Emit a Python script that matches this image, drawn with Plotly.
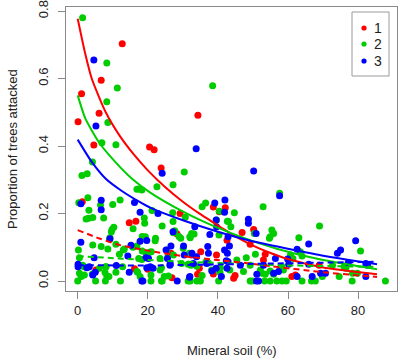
import plotly.graph_objects as go

# ---------------- data ----------------
groups = ["1", "2", "3"]
colors = {"1": "#FF0000", "2": "#00CD00", "3": "#0000FF"}

red_x = [12.7, 6.7, 1.1, 6.1, 34.3, 0.1, 4.6, 20.5, 21.8, 23.8, 1.3, 29.2, 38.7, 40.4, 14.7, 16.6,
         28.3, 5.2, 16.2, 20.0, 26.6, 32.5, 39.6, 34.2, 26.9, 42.1, 50.2, 46.9, 42.6, 49.2, 53.5,
         53.0, 61.1, 62.1, 44.9, 44.5, 68.9, 35.1, 38.7, 34.7]
red_y = [0.703, 0.595, 0.555, 0.497, 0.491, 0.472, 0.403, 0.397, 0.389, 0.335, 0.235, 0.200, 0.219,
         0.205, 0.173, 0.177, 0.140, 0.033, 0.036, 0.035, 0.082, 0.077, 0.077, 0.020, 0.010, 0.217,
         0.153, 0.144, 0.121, 0.109, 0.079, 0.062, 0.013, 0.018, 0.016, 0.008, 0.047, 0.087, 0.021,
         0.038]

green_x = [1.4, 8.3, 11.3, 38.5, 8.3, 8.6, 6.9, 10.9, 4.2, 1.2, 2.7, 30.4, 17.5, 16.9, 18.3, 27.2,
           22.6, 0.3, 2.9, 12.1, 10.0, 3.2, 2.4, 3.1, 4.3, 7.4, 21.2, 19.0, 27.1, 30.7, 36.5, 35.5,
           42.7, 19.1, 9.8, 9.6, 10.3, 15.8, 24.1, 27.7, 27.3, 28.9, 33.2, 32.1, 22.1, 18.4, 19.3,
           9.2, 15.8, 57.6, 52.9, 69.0, 80.7, 63.1, 44.7, 43.0, 43.7, 50.4, 55.4, 55.9, 54.9, 54.7,
           39.6, 40.3, 29.4, 32.0, 32.5, 27.2, 22.2, 40.4, 6.5,
           0.2, 4.3, 6.7, 8.6, 10.9, 11.9, 13.3, 18.4, 19.5, 0.5, 1.4, 6.2, 8.1, 12.8, 17.1, 0.5,
           1.0, 1.9, 8.9, 10.9, 7.8, 16.9, 9.1, 30.1, 21.0, 25.8, 29.6, 31.5, 32.3, 37.2, 23.9,
           35.5, 38.2, 40.6, 43.4, 50.7, 63.5, 64.0, 48.1, 60.7, 61.4, 58.3, 58.7, 52.1, 52.6,
           53.5, 54.9, 55.9, 47.3, 45.4, 49.2, 72.7, 76.0, 76.5, 74.6, 78.4, 79.8, 69.8,
           17.4, 18.3, 23.5, 20.5, 25.4, 27.3, 31.9, 34.0, 36.6, 40.7, 1.8, 4.2, 8.0, 8.3, 16.9,
           17.8, 20.9, 23.5, 24.7, 25.9, 13.0,
           0.0, 5.1, 7.9, 12.2, 20.9, 24.1, 32.1, 34.0, 35.0, 40.2, 49.2, 49.8, 53.3, 54.9, 56.8,
           58.3, 59.5, 64.0, 66.7, 67.8, 78.3, 87.8, 31.5, 23.9]
green_y = [0.780, 0.646, 0.572, 0.579, 0.531, 0.470, 0.410, 0.404, 0.353, 0.313, 0.318, 0.323,
           0.273, 0.272, 0.270, 0.285, 0.279, 0.232, 0.247, 0.240, 0.227, 0.210, 0.184, 0.186,
           0.188, 0.187, 0.209, 0.187, 0.202, 0.189, 0.231, 0.220, 0.177, 0.171, 0.153, 0.146,
           0.159, 0.155, 0.163, 0.149, 0.143, 0.132, 0.139, 0.128, 0.119, 0.132, 0.131, 0.128,
           0.100, 0.260, 0.220, 0.163, 0.089, 0.128, 0.202, 0.176, 0.161, 0.141, 0.151, 0.141,
           0.131, 0.127, 0.181, 0.136, 0.127, 0.131, 0.141, 0.176, 0.127, 0.207, 0.225,
           0.092, 0.107, 0.102, 0.095, 0.109, 0.079, 0.095, 0.089, 0.082, 0.069, 0.047, 0.038,
           0.042, 0.042, 0.026, 0.023, 0.013, 0.018, 0.013, 0.026, 0.025, 0.104, 0.124, 0.097,
           0.087, 0.074, 0.052, 0.050, 0.047, 0.055, 0.039, 0.016, 0.033, 0.026, 0.033, 0.079,
           0.087, 0.074, 0.069, 0.077, 0.067, 0.042, 0.033, 0.033, 0.023, 0.020, 0.030, 0.020,
           0.028, 0.062, 0.047, 0.047, 0.042, 0.038, 0.013, 0.023, 0.023, 0.013,
           0.067, 0.064, 0.067, 0.085, 0.092, 0.077, 0.082, 0.044, 0.057, 0.039, 0.042, 0.021,
           0.042, 0.015, 0.028, 0.013, 0.018, 0.033, 0.013, 0.015, 0.092,
           0.0, 0.0, 0.0, 0.0, 0.0, 0.0, 0.0, 0.0, 0.0, 0.0, 0.0, 0.0, 0.0, 0.0, 0.0,
           0.0, 0.0, 0.0, 0.0, 0.0, 0.0, 0.0, 0.0, 0.0]

blue_x = [4.6, 5.2, 33.8, 24.1, 0.9, 6.7, 6.7, 16.2, 17.8, 22.9, 39.1, 42.0, 41.9, 39.5, 9.2, 17.8,
          0.9, 15.2, 50.2, 57.6, 48.7, 48.7, 50.9, 43.3, 42.7, 27.2, 37.7, 39.6, 42.9, 33.4, 26.6,
          33.9, 26.3, 42.9, 21.5, 41.0, 32.0, 79.3, 75.0, 74.1, 77.2, 82.2, 82.7, 69.3, 70.7, 82.2,
          66.9, 62.6, 65.9, 59.9, 65.9, 57.3, 62.6, 53.0, 51.1, 46.4, 14.3, 19.5, 0.1, 0.1, 3.3,
          5.0, 11.0, 14.7, 19.7, 4.3, 18.6, 18.3, 28.4, 51.0, 51.6, 56.4, 60.2, 55.9, 4.7, 20.2,
          20.7, 25.6, 26.4, 25.2, 30.2, 30.4, 32.6, 33.0, 31.9, 36.8, 38.3, 39.5, 42.6, 42.4,
          41.9, 37.1, 37.3, 19.7, 2.6]
blue_y = [0.655, 0.459, 0.392, 0.319, 0.229, 0.239, 0.211, 0.233, 0.204, 0.200, 0.231, 0.240,
          0.204, 0.181, 0.125, 0.118, 0.115, 0.106, 0.326, 0.253, 0.183, 0.171, 0.141, 0.104,
          0.082, 0.146, 0.138, 0.161, 0.131, 0.161, 0.104, 0.072, 0.047, 0.057, 0.038, 0.013,
          0.013, 0.119, 0.092, 0.082, 0.054, 0.052, 0.047, 0.023, 0.023, 0.013, 0.013, 0.094,
          0.110, 0.065, 0.050, 0.028, 0.013, 0.047, 0.020, 0.047, 0.074, 0.069, 0.042, 0.050,
          0.042, 0.026, 0.046, 0.026, 0.039, 0.018, 0.0, 0.0, 0.0, 0.0, 0.0, 0.067, 0.050,
          0.023, 0.069, 0.067, 0.042, 0.067, 0.052, 0.092, 0.104, 0.077, 0.082, 0.052, 0.011,
          0.052, 0.030, 0.038, 0.038, 0.060, 0.092, 0.102, 0.082, 0.120, 0.039]

# fitted curves, values
red_fit_x = [0, 2, 4, 8, 12, 16, 20, 25, 30, 35, 40.7, 45, 50, 55, 60, 70, 85.4]
red_fit_y = [0.777, 0.68, 0.60, 0.50, 0.43, 0.375, 0.328, 0.278, 0.235, 0.198, 0.160, 0.132,
             0.105, 0.083, 0.065, 0.040, 0.020]
green_fit_x = [0, 2.2, 6, 10.7, 15.5, 20.7, 30.2, 39.7, 49.2, 57, 70, 85.4]
green_fit_y = [0.55, 0.481, 0.412, 0.353, 0.303, 0.262, 0.205, 0.159, 0.121, 0.095, 0.062, 0.035]
blue_fit_x = [0, 4, 8, 12.7, 17.4, 21, 30, 40, 49, 57, 70, 85.4]
blue_fit_y = [0.419, 0.353, 0.303, 0.266, 0.236, 0.216, 0.18, 0.146, 0.12, 0.102, 0.075, 0.050]

red_dash_x = [0, 6.2, 11.9, 20, 30, 40, 49, 55, 70, 85.4]
red_dash_y = [0.151, 0.126, 0.107, 0.090, 0.074, 0.062, 0.052, 0.044, 0.026, 0.012]
green_dash_x = [0, 20, 57, 85.4]
green_dash_y = [0.074, 0.062, 0.047, 0.042]
blue_dash_x = [0, 20, 57, 85.4]
blue_dash_y = [0.047, 0.046, 0.052, 0.057]

x_ticks = [0, 20, 40, 60, 80]
y_ticks = [0.0, 0.2, 0.4, 0.6, 0.8]
y_tick_labels = ["0.0", "0.2", "0.4", "0.6", "0.8"]

# ---------------- figure ----------------
FONT = "Liberation Sans, Arial, sans-serif"
TXT = "#222222"
fig = go.Figure()

pts = {"1": (red_x, red_y), "2": (green_x, green_y), "3": (blue_x, blue_y)}
for g in groups:
    xs, ys = pts[g]
    fig.add_trace(go.Scatter(x=xs, y=ys, mode="markers", name=g, showlegend=False,
                             marker=dict(color=colors[g], size=7, line=dict(width=0))))

fits = {"1": (red_fit_x, red_fit_y, red_dash_x, red_dash_y),
        "2": (green_fit_x, green_fit_y, green_dash_x, green_dash_y),
        "3": (blue_fit_x, blue_fit_y, blue_dash_x, blue_dash_y)}
for g in groups:
    fx, fy, dx, dy = fits[g]
    fig.add_trace(go.Scatter(x=fx, y=fy, mode="lines", showlegend=False, hoverinfo="skip",
                             line=dict(color=colors[g], width=2, shape="spline", smoothing=0.6)))
    fig.add_trace(go.Scatter(x=dx, y=dy, mode="lines", showlegend=False, hoverinfo="skip",
                             line=dict(color=colors[g], width=2, dash="6px,4px",
                                       shape="spline", smoothing=0.6)))

axis_common = dict(showline=True, linecolor="#8a8a8a", linewidth=1, mirror=True,
                   ticks="outside", ticklen=7, tickcolor="#8a8a8a", tickwidth=1,
                   showgrid=False, zeroline=False, automargin=False,
                   tickfont=dict(family=FONT, size=13, color=TXT))

# legend box (drawn in paper coordinates, top-right of the plot)
W, H = 331.0, 284.0          # plot area size in px
def px_x(p):  # px from plot-left -> paper
    return p / W
def px_y(p):  # px from plot-top -> paper
    return 1 - p / H

shapes = [dict(type="rect", xref="paper", yref="paper",
               x0=px_x(286), x1=px_x(323), y0=px_y(69), y1=px_y(5),
               line=dict(color="#9a9a9a", width=1), fillcolor="white", layer="above")]
annotations = [
    dict(text="Mineral soil (%)", xref="paper", yref="paper", x=0.5, y=px_y(343),
         showarrow=False, xanchor="center", yanchor="middle",
         font=dict(family=FONT, size=13, color=TXT)),
    dict(text="Proportion of trees attacked", xref="paper", yref="paper", x=px_x(-54), y=0.5,
         showarrow=False, textangle=-90, xanchor="center", yanchor="middle",
         font=dict(family=FONT, size=13, color=TXT)),
]
leg_rows = [21, 37, 54]
r = 2.6
for g, row in zip(groups, leg_rows):
    shapes.append(dict(type="circle", xref="paper", yref="paper",
                       x0=px_x(298 - r), x1=px_x(298 + r), y0=px_y(row + r), y1=px_y(row - r),
                       fillcolor=colors[g], line=dict(width=0), layer="above"))
    annotations.append(dict(text=g, xref="paper", yref="paper", x=px_x(306), y=px_y(row),
                            showarrow=False, xanchor="left", yanchor="middle",
                            font=dict(family=FONT, size=14, color=TXT)))

fig.update_layout(
    width=400, height=359,
    margin=dict(l=66, r=3, t=7, b=68, autoexpand=False),
    paper_bgcolor="white", plot_bgcolor="white",
    xaxis=dict(range=[-3.34, 91.1], tickvals=x_ticks, **axis_common),
    yaxis=dict(range=[-0.0296, 0.812], tickvals=y_ticks, ticktext=y_tick_labels,
               tickangle=-90, ticklabelstandoff=5, **axis_common),
    showlegend=False,
    shapes=shapes,
    annotations=annotations,
)

fig.write_html("out.html", config={"displayModeBar": False},
               post_script="document.body.style.margin='0';document.body.style.overflow='hidden';")
